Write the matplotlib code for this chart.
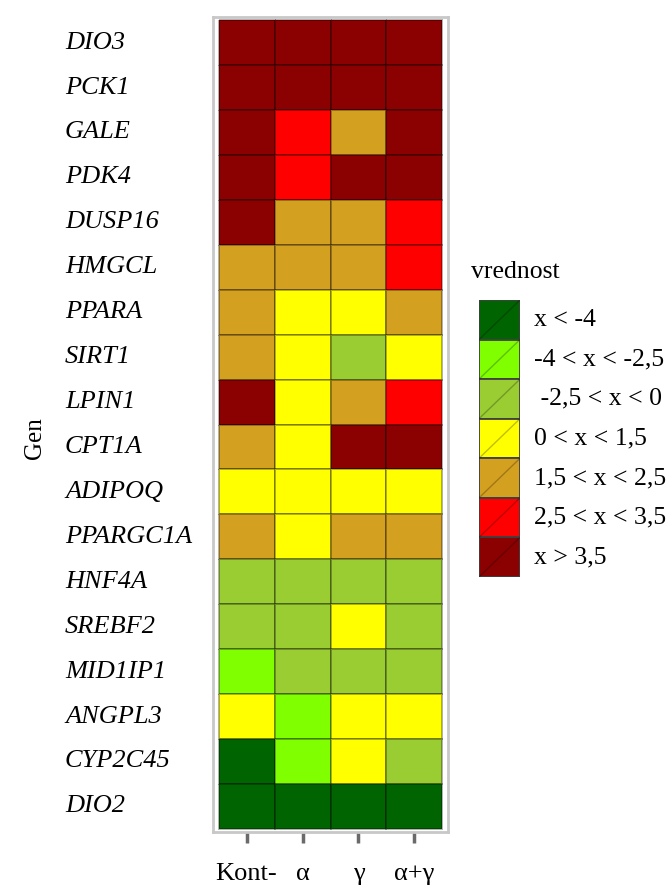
import numpy as np
import matplotlib
matplotlib.use("Agg")
from matplotlib import pyplot as plt
from matplotlib.colors import ListedColormap, BoundaryNorm
from matplotlib.patches import Rectangle

plt.rcParams['font.family'] = ['Liberation Serif', 'DejaVu Serif']

genes = ["DIO3", "PCK1", "GALE", "PDK4", "DUSP16", "HMGCL", "PPARA", "SIRT1",
         "LPIN1", "CPT1A", "ADIPOQ", "PPARGC1A", "HNF4A", "SREBF2", "MID1IP1",
         "ANGPL3", "CYP2C45", "DIO2"]
groups = ["Kont-", "α", "γ", "α+γ"]

# category index per cell (0 = x < -4 ... 6 = x > 3,5)
kont = [6, 6, 6, 6, 6, 4, 4, 4, 6, 4, 3, 4, 2, 2, 1, 3, 0, 0]
alfa = [6, 6, 5, 5, 4, 4, 3, 3, 3, 3, 3, 3, 2, 2, 2, 1, 1, 0]
gama = [6, 6, 4, 6, 4, 4, 3, 2, 4, 6, 3, 4, 2, 3, 2, 3, 3, 0]
alfa_gama = [6, 6, 6, 6, 5, 5, 4, 3, 5, 6, 3, 4, 2, 2, 2, 3, 2, 0]

legend_labels = ["x < -4", "-4 < x < -2,5", " -2,5 < x < 0", "0 < x < 1,5",
                 "1,5 < x < 2,5", "2,5 < x < 3,5", "x > 3,5"]
colors = ["#006400", "#7FFF00", "#9ACD32", "#FFFF00", "#D4A020", "#FF0000", "#8B0000"]

W, H = 670, 892
fig = plt.figure(figsize=(W / 100, H / 100), dpi=100)

vals = np.array([kont, alfa, gama, alfa_gama]).T
cmap = ListedColormap(colors)
norm = BoundaryNorm(np.arange(-0.5, 7.5, 1), cmap.N)

ax = fig.add_axes([213 / W, (H - 832) / H, 235 / W, 815 / H])
ax.pcolormesh(np.arange(-0.5, 4.5, 1), np.arange(-0.5, 18.5, 1), vals,
              cmap=cmap, norm=norm, edgecolors=(0, 0, 0, 0.3), linewidth=1.3)
ax.set_xlim(-0.6, 3.6)
ax.set_ylim(17.57, -0.57)
for s in ax.spines.values():
    s.set_color("#c8c8c8")
    s.set_linewidth(2)

ax.set_xticks(range(len(groups)))
ax.set_xticklabels(groups, fontsize=19)
ax.tick_params(axis='x', length=8, width=2.5, color="#6a6a6a", pad=14)
ax.set_yticks([])

for i, g in enumerate(genes):
    ax.text(-0.63, i, g, transform=ax.get_yaxis_transform(), ha='left',
            va='center', fontsize=19, style='italic')

fig.text(35 / W, 1 - 438 / H, "Gen", rotation=90, ha='center', va='center', fontsize=18)

# legend
lax = fig.add_axes([479 / W, (H - 577) / H, 41 / W, 277 / H])
n = len(colors)
for k in range(n):
    y0 = n - 1 - k
    lax.add_patch(Rectangle((0, y0), 1, 1, facecolor=colors[k],
                            edgecolor=(0.25, 0.25, 0.25), linewidth=1.3))
    lax.plot([0, 1], [y0, y0 + 1], color=(0, 0, 0, 0.25), linewidth=1)
    lax.text(1.35, y0 + 0.5, legend_labels[k], ha='left', va='center', fontsize=18.5)
lax.set_xlim(0, 1)
lax.set_ylim(0, n)
lax.axis('off')
fig.text(471 / W, 1 - 272 / H, "vrednost", ha='left', va='center', fontsize=18.5)

fig.savefig("out.png", dpi=100)
